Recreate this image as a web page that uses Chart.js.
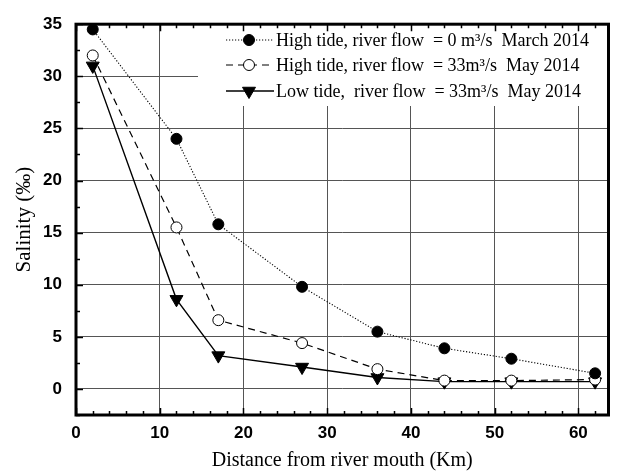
<!DOCTYPE html>
<html><head><meta charset="utf-8">
<script src="https://cdn.jsdelivr.net/npm/chart.js@4.4.0/dist/chart.umd.min.js"></script>
<style>html,body{margin:0;padding:0;background:#fff}</style>
</head><body>
<canvas id="c" width="617" height="475"></canvas>
<script>
const distances = [2, 12, 17, 27, 36, 44, 52, 62];
const highTideNoFlow = [34.5, 24.0, 15.8, 9.8, 5.5, 3.9, 2.9, 1.5];
const highTideFlow33 = [32.0, 15.5, 6.6, 4.4, 1.9, 0.8, 0.8, 0.9];
const lowTideFlow33 = [31.0, 8.6, 3.2, 2.1, 1.1, 0.7, 0.7, 0.7];
const seriesLabels = [
  'High tide, river flow  = 0 m\u00B3/s  March 2014',
  'High tide, river flow  = 33m\u00B3/s  May 2014',
  'Low tide,  river flow  = 33m\u00B3/s  May 2014'
];
const xTicks = [0, 10, 20, 30, 40, 50, 60];
const yTicks = [0, 5, 10, 15, 20, 25, 30, 35];
const xTitle = 'Distance from river mouth (Km)';
const yTitle = 'Salinity (\u2030)';

const toPts = arr => distances.map((d, i) => ({x: d, y: arr[i]}));

const styles = [
  {dash: [1.2, 1.8], width: 1.1, style: 'circle', fill: '#000', radius: 5.5, rot: 0},
  {dash: [7, 5], width: 1.2, style: 'circle', fill: '#fff', radius: 5.5, rot: 0},
  {dash: [], width: 1.4, style: 'triangle', fill: '#000', radius: 7.5, rot: 180}
];
const seriesData = [highTideNoFlow, highTideFlow33, lowTideFlow33];

const datasets = seriesData.map((arr, i) => ({
  label: seriesLabels[i],
  data: toPts(arr),
  borderColor: '#000',
  borderWidth: styles[i].width,
  borderDash: styles[i].dash,
  pointStyle: styles[i].style,
  pointRadius: styles[i].radius,
  pointBackgroundColor: styles[i].fill,
  pointBorderColor: '#000',
  pointBorderWidth: 1,
  pointRotation: styles[i].rot,
  tension: 0,
  fill: false
}));

const decor = {
  id: 'decor',
  beforeDatasetsDraw(chart) {
    const ctx = chart.ctx;
    ctx.save();
    ctx.fillStyle = '#fff';
    ctx.fillRect(198, 18.5, 613 - 198 - 1.5, 106 - 18.5);
    const rowsY = [40, 65, 91];
    rowsY.forEach((y, i) => {
      const st = styles[i];
      ctx.strokeStyle = '#000';
      ctx.lineWidth = st.width;
      ctx.setLineDash(st.dash);
      ctx.beginPath();
      ctx.moveTo(226, y); ctx.lineTo(274, y);
      ctx.stroke();
      ctx.setLineDash([]);
      ctx.fillStyle = st.fill;
      ctx.lineWidth = 1;
      Chart.helpers.drawPoint(ctx, {pointStyle: st.style, radius: st.radius, rotation: st.rot, borderWidth: 1}, 249, y);
      ctx.fillStyle = '#000';
      ctx.font = '18px "Liberation Serif"';
      ctx.textBaseline = 'middle';
      ctx.textAlign = 'left';
      ctx.fillText(seriesLabels[i], 276, y + 1);
    });
    ctx.restore();
  },
  afterDatasetsDraw(chart) {
    const ctx = chart.ctx;
    const a = chart.chartArea;
    const xs = chart.scales.x, ys = chart.scales.y;
    ctx.save();
    ctx.strokeStyle = '#000';
    ctx.setLineDash([]);
    ctx.lineWidth = 1.5;
    for (let v = 0; v <= xs.max; v += 2) {
      const px = Math.round(xs.getPixelForValue(v)) + 0.5;
      const len = (v % 10 === 0) ? 7 : 4;
      ctx.beginPath();
      ctx.moveTo(px, a.bottom); ctx.lineTo(px, a.bottom - len);
      ctx.moveTo(px, a.top); ctx.lineTo(px, a.top + len);
      ctx.stroke();
    }
    for (let v = -2.5; v <= ys.max; v += 2.5) {
      const py = Math.round(ys.getPixelForValue(v)) + 0.5;
      const len = (Math.abs(v % 5) < 1e-6) ? 7 : 4;
      ctx.beginPath();
      ctx.moveTo(a.left, py); ctx.lineTo(a.left + len, py);
      ctx.stroke();
    }
    ctx.lineWidth = 3;
    ctx.strokeRect(a.left, a.top, a.right - a.left, a.bottom - a.top);
    ctx.restore();
  }
};

new Chart(document.getElementById('c'), {
  type: 'line',
  data: {datasets},
  plugins: [decor],
  options: {
    responsive: false,
    animation: false,
    devicePixelRatio: 1,
    layout: {padding: {left: 0, right: 4, top: 17, bottom: 0}},
    plugins: {legend: {display: false}, tooltip: {enabled: false}},
    scales: {
      x: {
        type: 'linear', min: 0, max: 63.6,
        afterBuildTicks: s => { s.ticks = xTicks.map(v => ({value: v})); },
        afterFit: s => { s.height = 60; },
        grid: {color: '#555', lineWidth: 1, drawTicks: false},
        border: {display: false},
        ticks: {color: '#000', padding: 8, maxRotation: 0, font: {family: 'Liberation Sans', weight: 'bold', size: 17}},
        title: {display: true, text: xTitle, color: '#000', font: {family: 'Liberation Serif', size: 20}, padding: {top: 0, bottom: 2}}
      },
      y: {
        type: 'linear', min: -2.5, max: 35,
        afterBuildTicks: s => { s.ticks = yTicks.map(v => ({value: v})); },
        afterFit: s => { s.width = 76; },
        grid: {color: '#555', lineWidth: 1, drawTicks: false},
        border: {display: false},
        ticks: {color: '#000', padding: 14, font: {family: 'Liberation Sans', weight: 'bold', size: 17}},
        title: {display: true, text: yTitle, color: '#000', font: {family: 'Liberation Serif', size: 21}, padding: {top: 12, bottom: 0}}
      }
    }
  }
});
</script>
</body></html>
